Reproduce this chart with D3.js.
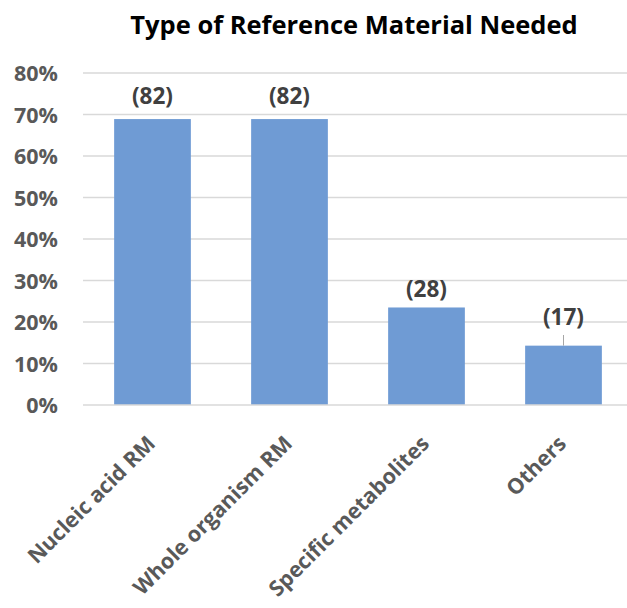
<!DOCTYPE html>
<html>
<head>
<meta charset="utf-8">
<script src="https://cdn.jsdelivr.net/npm/d3@7"></script>
<style>
  body { margin: 0; background: #fff; }
  text { font-family: "Open Sans", "Noto Sans", sans-serif; font-weight: bold; }
</style>
</head>
<body>
<svg id="chart" width="627" height="608"></svg>
<script>
// data (counts out of 119 respondents)
var categories = ["Nucleic acid RM", "Whole organism RM", "Specific metabolites", "Others"];
var counts = [82, 82, 28, 17];
var percents = [68.9, 68.9, 23.5, 14.3];
var yTicks = [0, 10, 20, 30, 40, 50, 60, 70, 80];

var svg = d3.select("#chart");

var x = d3.scaleBand()
    .domain(categories)
    .range([84, 632])
    .paddingInner(0.44)
    .paddingOuter(0.22);

var y = d3.scaleLinear()
    .domain([0, 80])
    .range([405, 73]);

// title
svg.append("text")
    .attr("x", 354)
    .attr("y", 34)
    .attr("text-anchor", "middle")
    .attr("font-size", 25.5)
    .attr("fill", "#000")
    .text("Type of Reference Material Needed");

// gridlines
svg.append("g")
    .selectAll("line")
    .data(yTicks.filter(function(d){ return d > 0; }))
    .join("line")
    .attr("x1", 83)
    .attr("x2", 627)
    .attr("y1", function(d){ return y(d); })
    .attr("y2", function(d){ return y(d); })
    .attr("stroke", "#d9d9d9")
    .attr("stroke-width", 1.3);

// y axis labels
var yAxis = d3.axisLeft(y)
    .tickValues(yTicks)
    .tickSize(0)
    .tickPadding(0)
    .tickFormat(function(d){ return d + "%"; });

var gy = svg.append("g")
    .attr("transform", "translate(58,1)")
    .call(yAxis);
gy.select(".domain").remove();
gy.selectAll("text")
    .attr("font-size", 21.5)
    .attr("fill", "#595959")
    .attr("font-family", "\"Open Sans\", sans-serif");

// bars
svg.append("g")
    .selectAll("rect")
    .data(categories)
    .join("rect")
    .attr("x", function(d){ return x(d); })
    .attr("width", x.bandwidth())
    .attr("y", function(d, i){ return y(percents[i]); })
    .attr("height", function(d, i){ return y(0) - y(percents[i]); })
    .attr("fill", "#6f9bd4");

// baseline
svg.append("line")
    .attr("x1", 83)
    .attr("x2", 627)
    .attr("y1", y(0))
    .attr("y2", y(0))
    .attr("stroke", "#d9d9d9")
    .attr("stroke-width", 1.3);

// data labels
var labelY = [96, 96, 289, 317];
svg.append("g")
    .selectAll("text")
    .data(categories)
    .join("text")
    .attr("x", function(d){ return x(d) + x.bandwidth() / 2; })
    .attr("y", function(d, i){ return labelY[i]; })
    .attr("dy", "0.35em")
    .attr("text-anchor", "middle")
    .attr("font-size", 22.5)
    .attr("fill", "#404040")
    .text(function(d, i){ return "(" + counts[i] + ")"; });

// leader line for the last label (moved above the gridline)
var last = categories[3];
svg.append("line")
    .attr("x1", x(last) + x.bandwidth() / 2)
    .attr("x2", x(last) + x.bandwidth() / 2)
    .attr("y1", 335)
    .attr("y2", y(percents[3]))
    .attr("stroke", "#a6a6a6")
    .attr("stroke-width", 1);

// category labels
var gx = svg.append("g")
    .attr("transform", "translate(0," + y(0) + ")")
    .call(d3.axisBottom(x).tickSize(0).tickPadding(0));
gx.select(".domain").remove();
gx.selectAll("text")
    .attr("font-size", 21.5)
    .attr("fill", "#595959")
    .attr("font-family", "\"Open Sans\", sans-serif")
    .attr("text-anchor", "end")
    .attr("dy", 0)
    .attr("y", 0)
    .attr("transform", "translate(4,40) rotate(-45)");
</script>
</body>
</html>
